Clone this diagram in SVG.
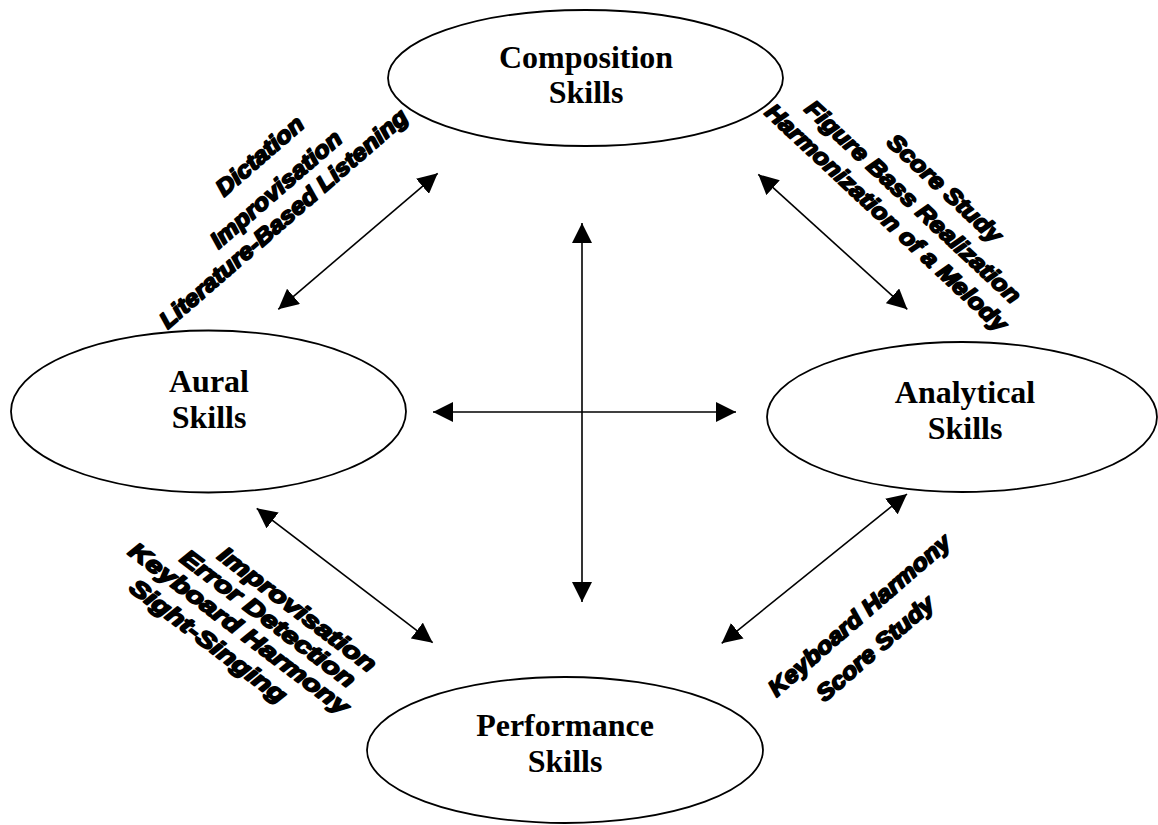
<svg xmlns="http://www.w3.org/2000/svg" width="1158" height="825" viewBox="0 0 1158 825">
<style>
.node ellipse{fill:#fff;stroke:#000;stroke-width:1.8}
.lbl{font-family:"Liberation Serif","Times New Roman",serif;font-weight:bold;font-size:32px;text-anchor:middle;fill:#000}
.conn line{stroke:#000;stroke-width:1.6;marker-start:url(#ah);marker-end:url(#ah)}
.rot{font-family:"Liberation Sans",Arial,sans-serif;font-weight:bold;font-style:italic;font-size:23px;fill:#000;stroke:#000;stroke-width:1.8;stroke-linejoin:round;text-anchor:middle}
</style>
<defs>
<marker id="ah" markerUnits="userSpaceOnUse" markerWidth="20" markerHeight="20" refX="20" refY="10" orient="auto-start-reverse" viewBox="0 0 20 20">
<path d="M0,0 L20,10 L0,20 z" fill="#000"/>
</marker>
</defs>
<rect width="1158" height="825" fill="#fff"/>
<g id="composition" class="node">
<ellipse cx="585.5" cy="78" rx="197.5" ry="68"/>
<text class="lbl" x="586" y="68">Composition</text>
<text class="lbl" x="586" y="103">Skills</text>
</g>
<g id="aural" class="node">
<ellipse cx="208.5" cy="411.5" rx="197.5" ry="81"/>
<text class="lbl" x="209" y="392">Aural</text>
<text class="lbl" x="209" y="428">Skills</text>
</g>
<g id="analytical" class="node">
<ellipse cx="962" cy="417" rx="195" ry="75"/>
<text class="lbl" x="965" y="403">Analytical</text>
<text class="lbl" x="965" y="439">Skills</text>
</g>
<g id="performance" class="node">
<ellipse cx="565" cy="750" rx="198" ry="73"/>
<text class="lbl" x="565" y="736">Performance</text>
<text class="lbl" x="565" y="772">Skills</text>
</g>
<g id="connectors" class="conn">
<line x1="582" y1="223" x2="582" y2="602"/>
<line x1="433" y1="412" x2="736" y2="412"/>
<line x1="437.7" y1="173.3" x2="278.3" y2="309.3"/>
<line x1="758.3" y1="174.3" x2="907.3" y2="309.3"/>
<line x1="256.7" y1="508.3" x2="432.7" y2="642.7"/>
<line x1="907" y1="494" x2="721.7" y2="643.3"/>
</g>
<g id="labels-aural-composition">
<text class="rot" transform="translate(259.5,155.8) rotate(-41) scale(1.1,1)" y="8">Dictation</text>
<text class="rot" transform="translate(275.8,189.2) rotate(-41) scale(1.1,1)" y="8">Improvisation</text>
<text class="rot" transform="translate(283.3,218.3) rotate(-41) scale(1.1,1)" y="8">Literature-Based Listening</text>
</g>
<g id="labels-composition-analytical">
<text class="rot" transform="translate(945,188.3) rotate(43) scale(1.1,1)" y="8">Score Study</text>
<text class="rot" transform="translate(913.3,201.7) rotate(43) scale(1.1,1)" y="8">Figure Bass Realization</text>
<text class="rot" transform="translate(886.7,217.5) rotate(43) scale(1.1,1)" y="8">Harmonization of a Melody</text>
</g>
<g id="labels-aural-performance">
<text class="rot" transform="translate(297.5,609.2) rotate(37) scale(1.27,1)" y="8">Improvisation</text>
<text class="rot" transform="translate(268.3,618.3) rotate(37) scale(1.27,1)" y="8">Error Detection</text>
<text class="rot" transform="translate(239.2,628.3) rotate(37) scale(1.27,1)" y="8">Keyboard Harmony</text>
<text class="rot" transform="translate(208.3,640.8) rotate(37) scale(1.27,1)" y="8">Sight-Singing</text>
</g>
<g id="labels-analytical-performance">
<text class="rot" transform="translate(859.2,615) rotate(-41) scale(1.1,1)" y="8">Keyboard Harmony</text>
<text class="rot" transform="translate(875,648.3) rotate(-41) scale(1.1,1)" y="8">Score Study</text>
</g>
</svg>
